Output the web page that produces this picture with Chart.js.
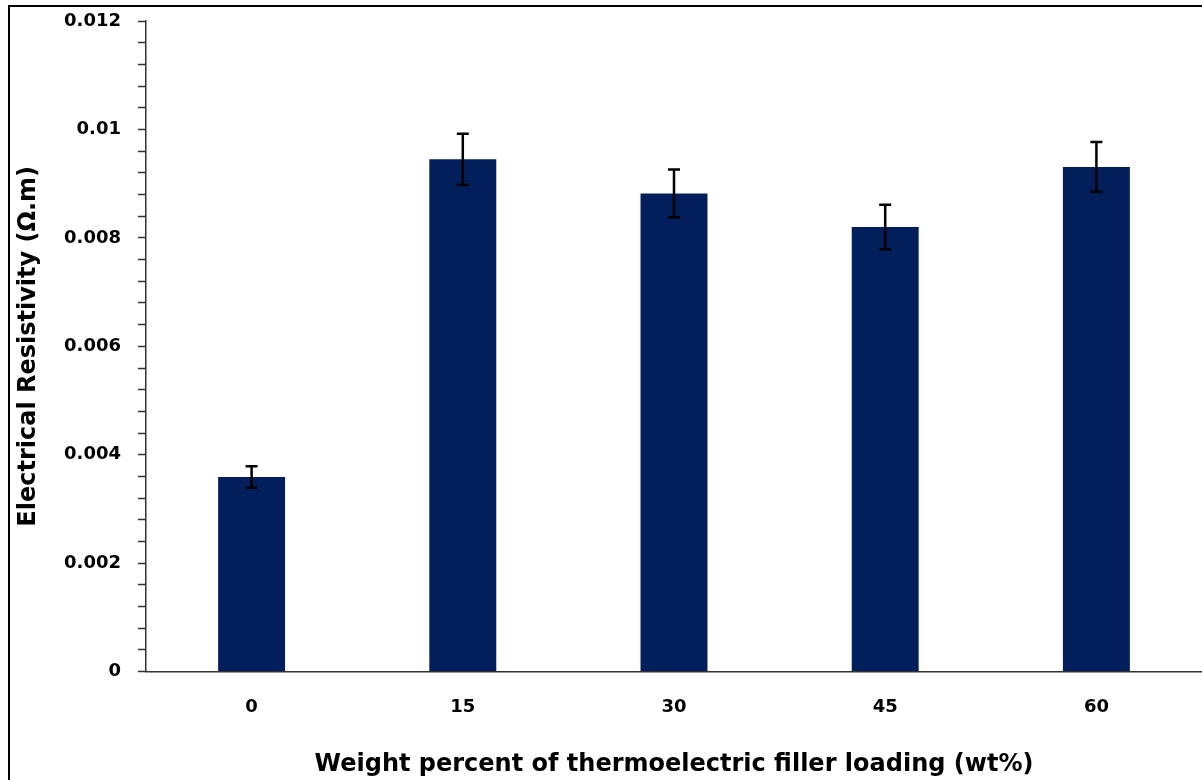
<!DOCTYPE html>
<html lang="en">

<head>
  <meta charset="UTF-8">
  <title>Electrical Resistivity</title>
  <style>
    html, body {
      margin: 0;
      padding: 0;
      background: #ffffff;
    }

    .grafico {
      position: relative;
      width: 1202px;
      height: 780px;
    }
  </style>
</head>

<body>
  <div class="grafico">
    <canvas id="chart_Resistividade"></canvas>
  </div>

  <script src="https://cdn.jsdelivr.net/npm/chart.js"></script>

  <script>
    // carga de enchimento termoelétrico (wt%)
    const cargas = ['0', '15', '30', '45', '60'];
    // resistividade média (Ω.m)
    const resistividade = [0.00359, 0.00945, 0.00882, 0.00820, 0.00931];
    // desvio (barra de erro)
    const desvio = [0.00020, 0.00047, 0.00044, 0.00041, 0.00046];

    const corBarra = '#021f5c';
    const fonte = "'DejaVu Sans', 'Open Sans', sans-serif";

    // moldura (topo e lado esquerdo)
    const moldura = {
      id: 'moldura',
      beforeDraw(chart) {
        const ctx = chart.ctx;
        ctx.save();
        ctx.strokeStyle = '#000';
        ctx.lineWidth = 2;
        ctx.beginPath();
        ctx.moveTo(9, chart.height);
        ctx.lineTo(9, 6);
        ctx.lineTo(chart.width, 6);
        ctx.stroke();
        ctx.restore();
      }
    };

    // barras de erro desenhadas pelas escalas
    const barrasErro = {
      id: 'barrasErro',
      afterDatasetsDraw(chart) {
        const ctx = chart.ctx;
        const x = chart.scales.x;
        const y = chart.scales.y;
        ctx.save();
        ctx.strokeStyle = '#000';
        ctx.lineWidth = 2.5;
        resistividade.forEach((v, i) => {
          const px = x.getPixelForValue(i);
          const topo = y.getPixelForValue(v + desvio[i]);
          const base = y.getPixelForValue(v - desvio[i]);
          ctx.beginPath();
          ctx.moveTo(px, topo);
          ctx.lineTo(px, base);
          ctx.moveTo(px - 6, topo);
          ctx.lineTo(px + 6, topo);
          ctx.moveTo(px - 6, base);
          ctx.lineTo(px + 6, base);
          ctx.stroke();
        });
        ctx.restore();
      }
    };

    function ehPrincipal(v) {
      const k = v / 0.002;
      return Math.abs(k - Math.round(k)) < 1e-6;
    }

    const ctx = document.getElementById('chart_Resistividade').getContext('2d');
    new Chart(ctx, {
      type: 'bar',
      data: {
        labels: cargas,
        datasets: [{
          label: 'Electrical Resistivity',
          data: resistividade,
          backgroundColor: corBarra,
          borderWidth: 0,
          categoryPercentage: 1,
          barPercentage: 0.317
        }]
      },
      options: {
        responsive: true,
        maintainAspectRatio: false,
        animation: false,
        layout: {
          padding: { left: 14, right: 0, top: 2, bottom: 1 }
        },
        plugins: {
          legend: { display: false },
          tooltip: { enabled: false }
        },
        scales: {
          x: {
            grid: { display: false },
            border: { color: '#333', width: 1.5 },
            ticks: {
              color: '#000',
              padding: 17,
              font: { family: fonte, size: 18, weight: 'bold' }
            },
            title: {
              display: true,
              text: 'Weight percent of thermoelectric filler loading (wt%)',
              color: '#000',
              padding: { top: 15, bottom: 0 },
              font: { family: fonte, size: 24, weight: 'bold' }
            }
          },
          y: {
            min: 0,
            max: 0.012,
            afterFit(scale) {
              scale.width = 132;
            },
            grid: {
              drawOnChartArea: false,
              drawTicks: true,
              tickLength: 8,
              tickWidth: 1.5,
              tickColor: '#333'
            },
            border: { color: '#333', width: 1.5 },
            ticks: {
              stepSize: 0.0004,
              autoSkip: false,
              color: '#000',
              padding: 17,
              font: { family: fonte, size: 18, weight: 'bold', lineHeight: 0.45 },
              callback: function (v) {
                return ehPrincipal(v) ? String(Number(v.toFixed(4))) : '';
              }
            },
            title: {
              display: true,
              text: 'Electrical Resistivity (Ω.m)',
              color: '#000',
              padding: { top: 0, bottom: 0 },
              font: { family: fonte, size: 24, weight: 'bold' }
            }
          }
        }
      },
      plugins: [moldura, barrasErro]
    });
  </script>
</body>

</html>
